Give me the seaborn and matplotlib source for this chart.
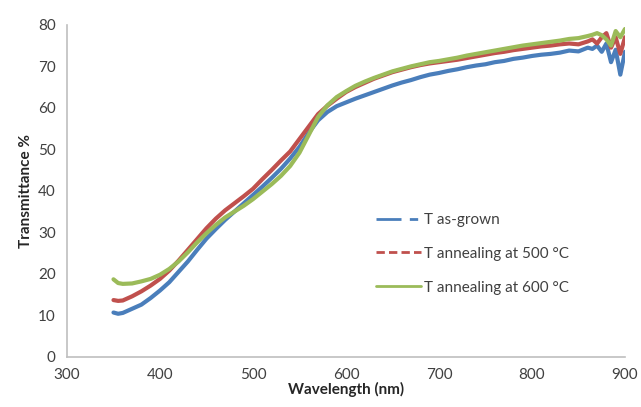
import pandas as pd
import seaborn as sns
import matplotlib.pyplot as plt
from matplotlib.lines import Line2D

wavelength = [350, 355, 360, 370, 380, 390, 400, 410, 420, 430, 440, 450, 460, 470, 480, 490,
              500, 510, 520, 530, 540, 550, 560, 570, 580, 590, 600, 610, 620, 630, 640, 650,
              660, 670, 680, 690, 700, 710, 720, 730, 740, 750, 760, 770, 780, 790, 800, 810,
              820, 830, 840, 850, 860, 865, 870, 875, 880, 885, 890, 895, 900]

as_grown = [10.7, 10.4, 10.6, 11.6, 12.6, 14.2, 16.0, 18.0, 20.5, 23.0, 25.8, 28.5, 30.8, 33.0, 35.0, 37.0,
            39.0, 41.0, 43.1, 45.3, 47.8, 50.6, 54.0, 57.0, 59.0, 60.4, 61.3, 62.2, 63.0, 63.8, 64.6, 65.4,
            66.1, 66.7, 67.4, 68.0, 68.4, 68.9, 69.3, 69.8, 70.2, 70.5, 71.0, 71.3, 71.8, 72.1, 72.5, 72.8,
            73.0, 73.3, 73.8, 73.6, 74.5, 74.2, 75.0, 73.5, 75.5, 71.0, 74.0, 68.0, 73.5]

ann_500 = [13.7, 13.5, 13.6, 14.6, 15.8, 17.2, 18.8, 20.8, 23.2, 25.8, 28.4, 31.0, 33.3, 35.3, 37.0, 38.7,
           40.5, 42.8, 45.0, 47.3, 49.5, 52.5, 55.5, 58.5, 60.5, 62.2, 63.8, 65.0, 66.0, 67.0, 67.8, 68.6,
           69.2, 69.8, 70.3, 70.7, 71.0, 71.3, 71.6, 72.0, 72.4, 72.8, 73.2, 73.5, 73.9, 74.2, 74.5, 74.8,
           75.0, 75.3, 75.5, 75.3, 76.0, 76.5, 75.5, 77.0, 78.0, 74.5, 77.0, 73.0, 77.0]

ann_600 = [18.7, 17.8, 17.6, 17.7, 18.2, 18.8, 19.8, 21.2, 23.0, 25.2, 27.6, 29.8, 31.8, 33.6, 35.0, 36.4,
           38.0, 39.8, 41.6, 43.6, 46.0, 49.2, 53.5, 57.8, 60.6, 62.6, 64.0, 65.3, 66.3, 67.2, 68.0, 68.8,
           69.4, 70.0, 70.5, 71.0, 71.3, 71.7, 72.1, 72.6, 73.0, 73.4, 73.8, 74.2, 74.6, 75.0, 75.3, 75.6,
           75.9, 76.2, 76.6, 76.8, 77.3, 77.6, 78.0, 77.5, 76.5, 75.0, 78.5, 77.0, 79.0]

labels = ["T as-grown", "T annealing at 500 \u00b0C", "T annealing at 600 \u00b0C"]
colors = ["#4A7EBB", "#C0504D", "#9BBB59"]

df = pd.concat([
    pd.DataFrame({"wl": wavelength, "T": vals, "sample": lab})
    for vals, lab in zip([as_grown, ann_500, ann_600], labels)
])

sns.set_style("white")
plt.rcParams["font.family"] = ["Lato", "DejaVu Sans"]

fig = plt.figure(figsize=(6.41, 4.07), dpi=100)
ax = fig.add_axes([0.1045, 0.123, 0.8705, 0.816])
sns.lineplot(data=df, x="wl", y="T", hue="sample", palette=colors, linewidth=3,
             legend=False, ax=ax)

ax.set_xlim(300, 900)
ax.set_ylim(0, 80)
ax.set_xticks(range(300, 901, 100))
ax.set_yticks(range(0, 81, 10))
ax.tick_params(length=0, labelsize=11, labelcolor="#404040", pad=8)
for s in ["top", "right"]:
    ax.spines[s].set_visible(False)
for s in ["left", "bottom"]:
    ax.spines[s].set_color("#BFBFBF")
    ax.spines[s].set_linewidth(1.2)

ax.set_xlabel("Wavelength (nm)", fontsize=11, fontweight="bold", labelpad=0)
ax.set_ylabel("Transmittance %", fontsize=11, fontweight="bold", labelpad=4)

handles = [
    Line2D([], [], color=colors[0], lw=2, dashes=(9, 3, 3, 3)),
    Line2D([], [], color=colors[1], lw=2, dashes=(3, 1.5)),
    Line2D([], [], color=colors[2], lw=2),
]
ax.legend(handles, labels, loc="upper left", bbox_to_anchor=(0.53, 0.475), frameon=False,
          fontsize=11, handlelength=2.9, handletextpad=0.2, labelspacing=1.3,
          labelcolor="#404040")

fig.savefig("out.png", dpi=100)
